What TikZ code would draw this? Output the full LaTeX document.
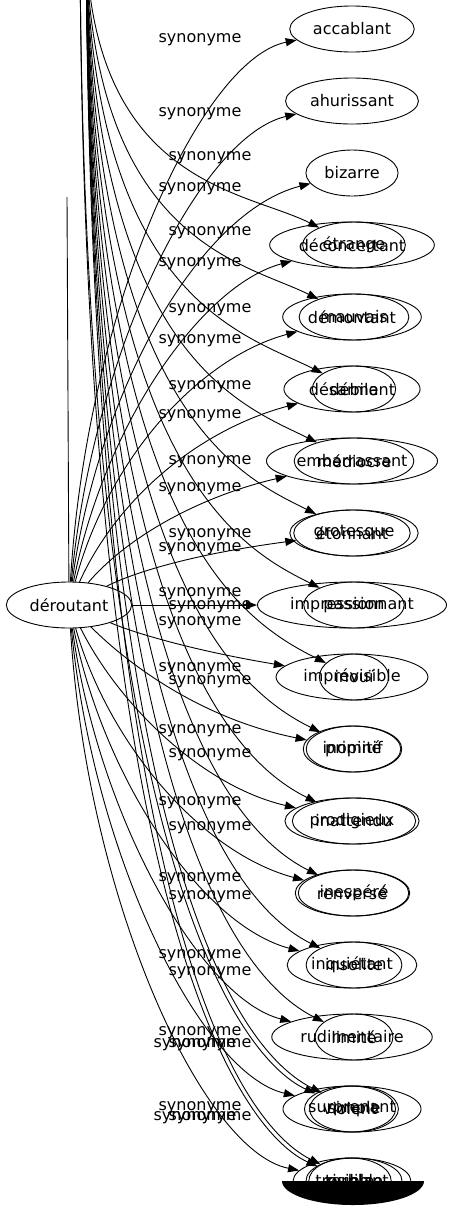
\documentclass[tikz,border=0pt]{standalone}
\usepackage{fontspec}
\setmainfont{DejaVu Sans}
\usetikzlibrary{shapes.geometric,arrows.meta}

\begin{document}
\begin{tikzpicture}[x=1pt,y=1pt,line width=0.9pt,
	>={Triangle[length=11pt,width=8pt]},
	mot/.style={draw,ellipse,font=\fontsize{16}{19}\selectfont,inner xsep=5pt,minimum height=46pt},
	syn/.style={font=\fontsize{16}{19}\selectfont,inner sep=0pt}]
	\useasboundingbox (0,0) rectangle (451,-1211);
	\clip (0,0) rectangle (451,-1211);
	% mot central et sources hors cadre
	\node[mot] (D) at (69,-605) {déroutant};
	\coordinate (haut) at (86,60);
	\coordinate (hautC) at (80,60);
	\coordinate (bout) at (67,-197);
	% premiere colonne
	\node[mot] (a1) at (352,-29) {accablant};
	\node[mot] (a2) at (352,-101) {ahurissant};
	\node[mot] (a3) at (352,-173) {bizarre};
	\node[mot] (a4) at (352,-245) {déconcertant};
	\node[mot] (a5) at (352,-317) {démontant};
	\node[mot] (a6) at (352,-389) {désarmant};
	\node[mot] (a7) at (352,-461) {embarrassant};
	\node[mot] (a8) at (352,-533) {étonnant};
	\node[mot] (a9) at (352,-605) {impressionnant};
	\node[mot] (a10) at (352,-677) {imprévisible};
	\node[mot] (a11) at (352,-749) {inopiné};
	\node[mot] (a12) at (352,-821) {prodigieux};
	\node[mot] (a13) at (352,-893) {renversé};
	\node[mot] (a14) at (352,-965) {inquiétant};
	\node[mot] (a15) at (352,-1037) {rudimentaire};
	\node[mot] (a16) at (352,-1109) {surprenant};
	\node[mot] (a17) at (352,-1181) {troublant};
	% seconde colonne, superposee
	\node[mot] (b4) at (354,-245) {étrange};
	\node[mot] (b5) at (354,-317) {mauvais};
	\node[mot] (b6) at (354,-389) {débile};
	\node[mot] (b7) at (354,-461) {médiocre};
	\node[mot] (b8) at (354,-533) {grotesque};
	\node[mot] (b9) at (354,-605) {passion};
	\node[mot] (b10) at (354,-677) {inouï};
	\node[mot] (b11) at (354,-749) {primitif};
	\node[mot] (b12) at (354,-821) {inattendu};
	\node[mot] (b13) at (354,-893) {inespéré};
	\node[mot] (b14) at (354,-965) {insolite};
	\node[mot] (b15) at (354,-1037) {limité};
	\node[mot] (b16) at (354,-1109) {simple};
	\node[mot] (b17) at (354,-1181) {terrible};
	\node[mot] (c16) at (350,-1109) {violent};
	\node[mot] (c17) at (350,-1181) {risible};
	% etiquettes
	\node[syn] (s1) at (200,-40) {synonyme};
	\node[syn] (s2) at (200,-114) {synonyme};
	\node[syn] (s3) at (200,-189) {synonyme};
	\node[syn] (s4) at (200,-264) {synonyme};
	\node[syn] (s5) at (200,-341) {synonyme};
	\node[syn] (s6) at (200,-416) {synonyme};
	\node[syn] (s7) at (200,-489) {synonyme};
	\node[syn] (s8) at (200,-549) {synonyme};
	\node[syn] (s9) at (200,-594) {synonyme};
	\node[syn] (s10) at (200,-623) {synonyme};
	\node[syn] (s11) at (200,-669) {synonyme};
	\node[syn] (s12) at (200,-731) {synonyme};
	\node[syn] (s13) at (200,-803) {synonyme};
	\node[syn] (s14) at (200,-879) {synonyme};
	\node[syn] (s15) at (200,-956) {synonyme};
	\node[syn] (s16) at (200,-1033) {synonyme};
	\node[syn] (s17) at (200,-1108) {synonyme};
	\node[syn] (t4) at (210,-158) {synonyme};
	\node[syn] (t5) at (210,-233) {synonyme};
	\node[syn] (t6) at (210,-310) {synonyme};
	\node[syn] (t7) at (210,-387) {synonyme};
	\node[syn] (t8) at (210,-462) {synonyme};
	\node[syn] (t9) at (210,-535) {synonyme};
	\node[syn] (t10) at (210,-607) {synonyme};
	\node[syn] (t11) at (210,-682) {synonyme};
	\node[syn] (t12) at (210,-755) {synonyme};
	\node[syn] (t13) at (210,-828) {synonyme};
	\node[syn] (t14) at (210,-897) {synonyme};
	\node[syn] (t15) at (210,-973) {synonyme};
	\node[syn] (t16) at (210,-1045) {synonyme};
	\node[syn] (t17) at (210,-1118) {synonyme};
	\node[syn] (u16) at (195,-1045) {synonyme};
	\node[syn] (u17) at (195,-1118) {synonyme};
	% aretes depuis deroutant
	\draw (D) -- (bout);
	\draw[->] (D) .. controls +(18,300) and +(-150,-30) .. (a1);
	\draw[->] (D) .. controls +(25,260) and +(-150,-35) .. (a2);
	\draw[->] (D) .. controls +(30,220) and +(-150,-38) .. (a3);
	\draw[->] (D) .. controls +(35,180) and +(-150,-40) .. (a4);
	\draw[->] (D) .. controls +(40,150) and +(-150,-40) .. (a5);
	\draw[->] (D) .. controls +(50,110) and +(-150,-40) .. (a6);
	\draw[->] (D) .. controls +(60,70) and +(-150,-35) .. (a7);
	\draw[->] (D) .. controls +(70,35) and +(-150,-20) .. (a8);
	\draw[->] (D) -- (a9);
	\draw[->] (D) .. controls +(70,-30) and +(-150,25) .. (a10);
	\draw[->] (D) .. controls +(60,-60) and +(-150,30) .. (a11);
	\draw[->] (D) .. controls +(50,-100) and +(-150,35) .. (a12);
	\draw[->] (D) .. controls +(40,-140) and +(-150,40) .. (a13);
	\draw[->] (D) .. controls +(35,-175) and +(-150,40) .. (a14);
	\draw[->] (D) .. controls +(30,-215) and +(-150,38) .. (a15);
	\draw[->] (D) .. controls +(25,-255) and +(-150,35) .. (a16);
	\draw[->] (D) .. controls +(18,-295) and +(-150,30) .. (a17);
	% aretes venues d'en haut
	\draw[->] (haut) .. controls +(5,-244) and +(-110,55) .. (b4);
	\draw[->] (haut) .. controls +(5,-302) and +(-110,55) .. (b5);
	\draw[->] (haut) .. controls +(5,-359) and +(-110,55) .. (b6);
	\draw[->] (haut) .. controls +(5,-417) and +(-110,55) .. (b7);
	\draw[->] (haut) .. controls +(5,-474) and +(-110,55) .. (b8);
	\draw[->] (haut) .. controls +(5,-532) and +(-110,55) .. (b9);
	\draw[->] (haut) .. controls +(5,-590) and +(-110,55) .. (b10);
	\draw[->] (haut) .. controls +(5,-647) and +(-110,55) .. (b11);
	\draw[->] (haut) .. controls +(5,-705) and +(-110,55) .. (b12);
	\draw[->] (haut) .. controls +(5,-762) and +(-110,55) .. (b13);
	\draw[->] (haut) .. controls +(5,-820) and +(-110,55) .. (b14);
	\draw[->] (haut) .. controls +(5,-878) and +(-110,55) .. (b15);
	\draw[->] (haut) .. controls +(5,-935) and +(-110,55) .. (b16);
	\draw[->] (haut) .. controls +(5,-993) and +(-110,55) .. (b17);
	\draw[->] (hautC) .. controls +(3,-950) and +(-100,45) .. (c16);
	\draw[->] (hautC) .. controls +(3,-1010) and +(-100,45) .. (c17);
	% tache noire du bas
	\fill (282,-1181) arc[start angle=180,end angle=360,x radius=71,y radius=24] -- cycle;
\end{tikzpicture}
\end{document}
